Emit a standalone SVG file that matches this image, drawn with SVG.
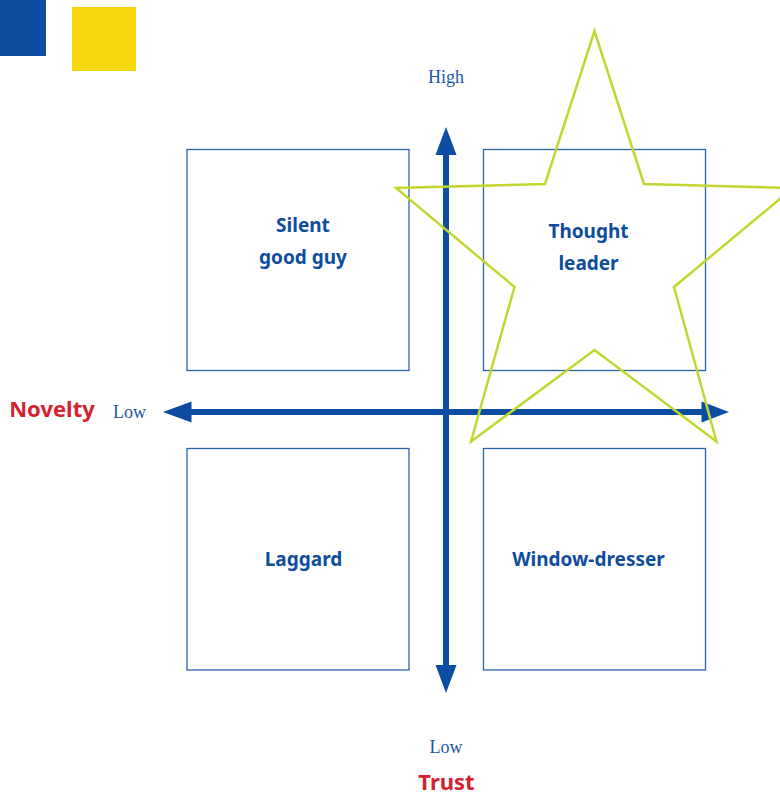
<svg xmlns="http://www.w3.org/2000/svg" width="780" height="796" viewBox="0 0 780 796">
<defs>
<style>
.box{fill:none;stroke:#2A62AE;stroke-width:1.3}
.lbl{font-family:"Noto Sans","Open Sans",sans-serif;font-weight:bold;font-size:19px;fill:#0E4C9E;text-anchor:middle}
.axl{font-family:"Liberation Serif",serif;font-size:18px;fill:#1E56A6;text-anchor:middle}
.ttl{font-family:"Noto Sans","Open Sans",sans-serif;font-weight:bold;font-size:22px;fill:#D42130;text-anchor:middle}
.axis{stroke:#0D4DA1;stroke-width:6;fill:none}
.head{fill:#0D4DA1}
</style>
</defs>
<rect x="0" y="0" width="46" height="56" fill="#0D4DA1"/>
<rect x="72" y="7" width="64" height="64" fill="#F4D70C"/>
<g id="connectors">
<line class="axis" x1="446" y1="150" x2="446" y2="670"/>
<line class="axis" x1="186" y1="412" x2="706" y2="412"/>
<polygon class="head" points="446,127 456.5,155 435.5,155"/>
<polygon class="head" points="446,693 456.5,665 435.5,665"/>
<polygon class="head" points="163,412 191.5,401.5 191.5,422.5"/>
<polygon class="head" points="729,412 701.5,401.5 701.5,422.5"/>
</g>
<g id="silent-good-guy">
<rect class="box" x="187" y="149.5" width="222" height="221"/>
<text class="lbl" x="303" y="232">Silent</text>
<text class="lbl" x="303" y="264">good guy</text>
</g>
<g id="thought-leader">
<rect class="box" x="483.5" y="149.5" width="222" height="221"/>
<text class="lbl" x="588.5" y="238">Thought</text>
<text class="lbl" x="588.5" y="270">leader</text>
</g>
<g id="laggard">
<rect class="box" x="187" y="448.5" width="222" height="221.5"/>
<text class="lbl" x="303.5" y="565.5">Laggard</text>
</g>
<g id="window-dresser">
<rect class="box" x="483.5" y="448.5" width="222" height="221.5"/>
<text class="lbl" x="588.5" y="565.5">Window-dresser</text>
</g>
<g id="star">
<polygon points="594.5,31 545,184 396,188 514.5,287 471,441.5 594.5,350 716.5,441.5 674,287 793,188 644,184" fill="none" stroke="#C3D630" stroke-width="2.5" stroke-linejoin="miter"/>
</g>
<g id="axis-labels">
<text class="axl" x="446" y="83">High</text>
<text class="axl" x="129.5" y="417.5">Low</text>
<text class="axl" x="446" y="752.5">Low</text>
<text class="ttl" x="52" y="417" text-anchor="middle">Novelty</text>
<text class="ttl" x="446.5" y="789.5">Trust</text>
</g>
</svg>
